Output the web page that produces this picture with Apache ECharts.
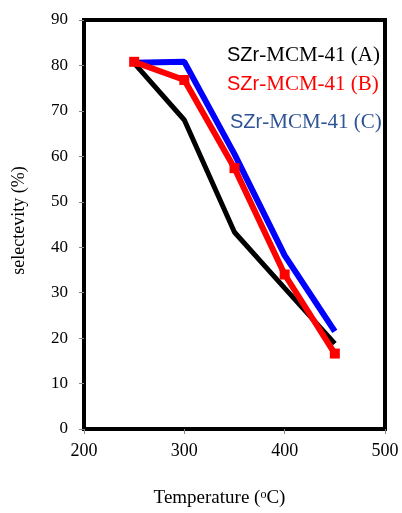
<!DOCTYPE html>
<html>
<head>
<meta charset="utf-8">
<script src="https://cdn.jsdelivr.net/npm/echarts@6/dist/echarts.min.js"></script>
<style>
  html, body { margin: 0; padding: 0; background: #fff; }
  #chart { width: 402px; height: 513px; }
</style>
</head>
<body>
<div id="chart"></div>
<script>
const temps = [250, 300, 350, 400, 450]
const sampleA = [80.5, 68, 43.3, 31, 18.8]
const sampleB = [80.8, 76.8, 57.4, 34, 16.6]
const sampleC = [80.6, 80.8, 60.5, 38.2, 21.5]
const names = ['SZr-MCM-41 (A)', 'SZr-MCM-41 (B)', 'SZr-MCM-41 (C)']

const serif = '"Liberation Serif", "Times New Roman", serif'
const sans = '"Liberation Sans", Arial, sans-serif'

function pairs(ys) {
    return temps.map((t, i) => [t, ys[i]])
}

function legendFor(name, color, top, left) {
    return {
        data: [name],
        top: top,
        left: left,
        padding: 0,
        icon: 'none',
        itemWidth: 0,
        itemGap: 0,
        selectedMode: false,
        formatter: n => '{s|SZr}{t|' + n.slice(3) + '}',
        textStyle: {
            rich: {
                s: { fontFamily: sans, fontSize: 20, color: color, lineHeight: 24 },
                t: { fontFamily: serif, fontSize: 21, color: color, lineHeight: 24 }
            }
        }
    }
}

const chart = echarts.init(document.getElementById('chart'))
chart.setOption({
    animation: false,
    grid: {
        left: 84,
        right: 17,
        top: 20,
        bottom: 70.5,
        show: true,
        borderColor: '#000',
        borderWidth: 4,
        containLabel: false
    },
    legend: [
        legendFor(names[0], '#000', 45, 222),
        legendFor(names[1], '#ff0000', 73.5, 222),
        legendFor(names[2], '#2f5496', 111.5, 225)
    ],
    xAxis: {
        type: 'value',
        min: 200,
        max: 500,
        interval: 100,
        name: 'Temperature ({o|o}C)',
        nameLocation: 'middle',
        nameGap: 60,
        nameTextStyle: {
            fontFamily: serif,
            fontSize: 19,
            color: '#000',
            padding: [0, 30, 0, 0],
            rich: {
                o: { fontFamily: serif, fontSize: 12, color: '#000', verticalAlign: 'top', padding: [0, 0, 7, 0] }
            }
        },
        axisLine: { show: false },
        axisTick: { show: true, length: 5, lineStyle: { color: '#888', width: 1 } },
        splitLine: { show: false },
        axisLabel: { fontFamily: serif, fontSize: 18, color: '#000', margin: 13 }
    },
    yAxis: {
        type: 'value',
        min: 0,
        max: 90,
        interval: 10,
        name: 'selectevity (%)',
        nameLocation: 'middle',
        nameGap: 56,
        nameTextStyle: {
            fontFamily: serif,
            fontSize: 18,
            color: '#000',
            padding: [0, 0, 0, 8]
        },
        axisLine: { show: false },
        axisTick: { show: true, length: 5, lineStyle: { color: '#888', width: 1 } },
        splitLine: { show: false },
        axisLabel: { fontFamily: serif, fontSize: 17, color: '#000', margin: 16 }
    },
    series: [
        {
            name: names[0],
            type: 'line',
            data: pairs(sampleA),
            color: '#000',
            showSymbol: false,
            lineStyle: { width: 5, color: '#000' }
        },
        {
            name: names[2],
            type: 'line',
            data: pairs(sampleC),
            color: '#0000ff',
            showSymbol: false,
            lineStyle: { width: 6, color: '#0000ff' }
        },
        {
            name: names[1],
            type: 'line',
            data: pairs(sampleB),
            color: '#ff0000',
            symbol: 'rect',
            symbolSize: 10,
            itemStyle: { color: '#ff0000' },
            lineStyle: { width: 6, color: '#ff0000' }
        }
    ]
})
</script>
</body>
</html>
